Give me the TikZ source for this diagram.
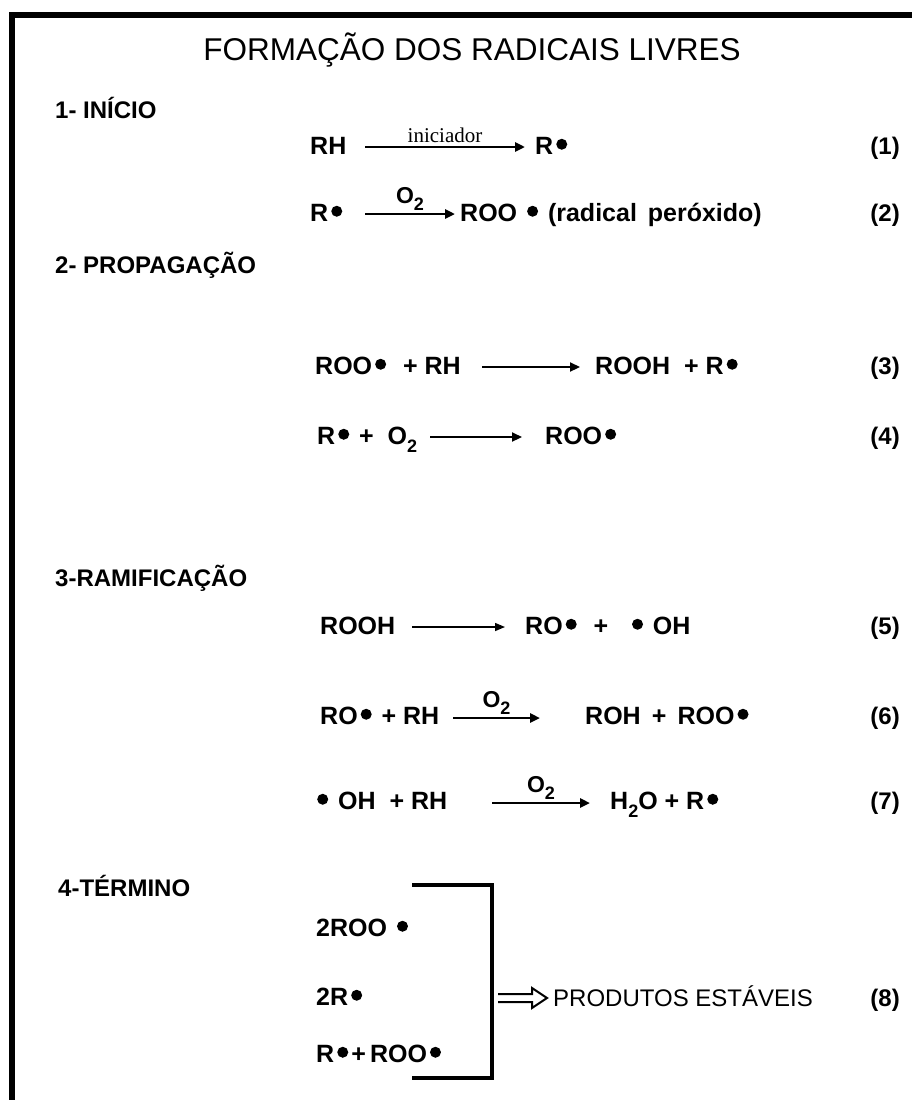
\documentclass[tikz,border=0pt]{standalone}
\usepackage{fontspec}
\setmainfont{Liberation Sans}
\newfontfamily\serifx{Liberation Serif}
\usetikzlibrary{arrows.meta,calc}
\newcommand\rd{\hspace{3pt}\raisebox{0.17em}{\tikz\fill (0,0) circle (5.5pt);}\hspace{3pt}}
\newcommand\subtwo{\raisebox{-0.32em}{\fontsize{18}{18}\selectfont 2}}
\tikzset{
  eq/.style={anchor=base west, inner sep=0pt, font=\fontsize{25}{25}\selectfont\bfseries},
  num/.style={anchor=base east, inner sep=0pt, font=\fontsize{24}{24}\selectfont\bfseries},
  sec/.style={anchor=base west, inner sep=0pt, font=\fontsize{24}{24}\selectfont\bfseries},
  ttl/.style={anchor=base, inner sep=0pt, font=\fontsize{31.5}{31.5}\selectfont},
  rx/.style={line width=2.8pt, -{Triangle[length=10pt,width=9pt]}},
  rxmid/.style={line width=2.2pt, -{Triangle[length=10pt,width=9pt]}},
  rxthin/.style={line width=1.4pt, -{Triangle[length=10pt,width=8pt]}},
  above label/.style={above=2pt, inner sep=0pt, font=\fontsize{23}{23}\selectfont\bfseries},
  frame/.style={line width=6pt},
  brk/.style={line width=3.5pt}
}
\begin{document}
\begin{tikzpicture}[x=1pt,y=-1pt]
\useasboundingbox (0,0) rectangle (912,1100);
\draw[frame] (12,1100) -- (12,15) -- (912,15);

\node[ttl] (title) at (472,60) {FORMAÇÃO DOS RADICAIS LIVRES};

\node[sec] (s1) at (55,118) {1- INÍCIO};
\node[sec] (s2) at (55,273) {2- PROPAGAÇÃO};
\node[sec] (s3) at (55,586) {3-RAMIFICAÇÃO};
\node[sec] (s4) at (58,896) {4-TÉRMINO};

% (1)
\node[eq] (e1a) at (310,154) {RH};
\node[eq] (e1b) at (535,154) {R\rd};
\node[num] (n1) at (900,154) {(1)};
\coordinate (a1s) at (365,147); \coordinate (a1e) at (525,147);
\draw[rx] (a1s) -- node[above=3pt, inner sep=0pt, font=\serifx\fontsize{21}{21}\selectfont] {iniciador} (a1e);

% (2)
\node[eq] (e2a) at (310,221) {R\rd};
\node[eq] (e2b) at (460,221) {ROO \rd\ (radical\hspace{4pt} peróxido)};
\node[num] (n2) at (900,221) {(2)};
\coordinate (a2s) at (365,214); \coordinate (a2e) at (455,214);
\draw[rx] (a2s) -- node[above label] {O\subtwo} (a2e);

% (3)
\node[eq] (e3a) at (315,374) {ROO\rd\ \ + RH};
\node[eq] (e3b) at (595,374) {ROOH\ \ +\ R\rd};
\node[num] (n3) at (900,374) {(3)};
\coordinate (a3s) at (482,367); \coordinate (a3e) at (580,367);
\draw[rxmid] (a3s) -- (a3e);

% (4)
\node[eq] (e4a) at (317,444) {R\rd\ + \ O\subtwo};
\node[eq] (e4b) at (545,444) {ROO\rd};
\node[num] (n4) at (900,444) {(4)};
\coordinate (a4s) at (430,437); \coordinate (a4e) at (522,437);
\draw[rxmid] (a4s) -- (a4e);

% (5)
\node[eq] (e5a) at (320,634) {ROOH};
\node[eq] (e5b) at (525,634) {RO\rd\ \ +\ \ \ \rd\ OH};
\node[num] (n5) at (900,634) {(5)};
\coordinate (a5s) at (412,627); \coordinate (a5e) at (505,627);
\draw[rxthin] (a5s) -- (a5e);

% (6)
\node[eq] (e6a) at (320,724) {RO\rd\ + RH};
\node[eq] (e6b) at (585,724) {ROH \,+\, ROO\rd};
\node[num] (n6) at (900,724) {(6)};
\coordinate (a6s) at (453,718); \coordinate (a6e) at (540,718);
\draw[rx] (a6s) -- node[above label] {O\subtwo} (a6e);

% (7)
\node[eq] (e7a) at (314,809) {\rd\ OH \ + RH};
\node[eq] (e7b) at (610,809) {H\subtwo O\ + R\rd};
\node[num] (n7) at (900,809) {(7)};
\coordinate (a7s) at (492,803); \coordinate (a7e) at (590,803);
\draw[rx] (a7s) -- node[above label] {O\subtwo} (a7e);

% (8)
\node[eq] (t1) at (316,936) {2ROO \rd};
\node[eq] (t2) at (316,1005) {2R\rd};
\node[eq] (t3) at (316,1062) {R\rd+\,ROO\rd};
\coordinate (bt) at (412,885); \coordinate (bb) at (412,1078);
\draw[brk] (bt) -| (492,980) |- (bb);
\node[eq, font=\fontsize{24}{24}\selectfont] (prod) at (553,1006) {PRODUTOS ESTÁVEIS};
\node[num] (n8) at (900,1006) {(8)};
\coordinate (d0) at (498,998); \coordinate (d1) at (532,998); \coordinate (d2) at (547,998);
\draw[line width=2pt, line join=miter]
  ($(d0)+(0,-4)$) -- ($(d1)+(0,-4)$) -- ($(d1)+(0,-10)$) -- (d2) -- ($(d1)+(0,10)$) -- ($(d1)+(0,4)$) -- ($(d0)+(0,4)$);
\end{tikzpicture}
\end{document}
